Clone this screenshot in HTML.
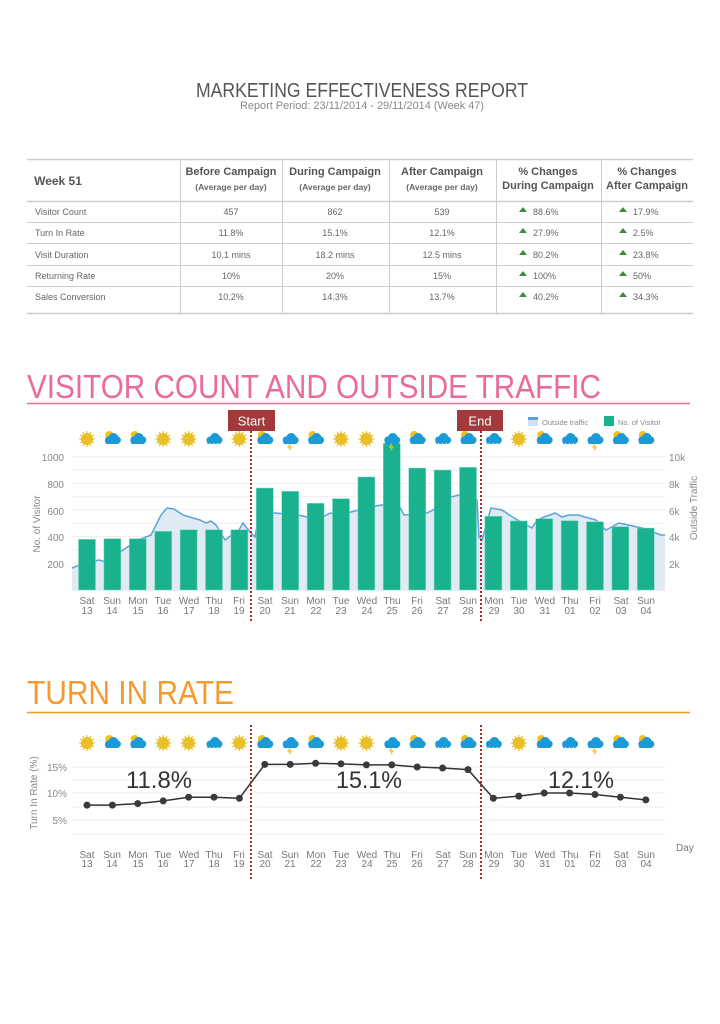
<!DOCTYPE html>
<html><head><meta charset="utf-8">
<style>
html,body{margin:0;padding:0;background:#fff;}
body{width:720px;height:1019px;overflow:hidden;font-family:"Liberation Sans",sans-serif;}
svg text{font-family:"Liberation Sans",sans-serif;}
</style></head>
<body>
<svg id="s" width="720" height="1019" viewBox="0 0 720 1019" xmlns="http://www.w3.org/2000/svg">
<rect width="720" height="1019" fill="#fff"/>
<text x="362" y="97" text-anchor="middle" font-size="20" fill="#555" font-weight="300" textLength="332" lengthAdjust="spacingAndGlyphs">MARKETING EFFECTIVENESS REPORT</text>
<text x="362" y="109" text-anchor="middle" font-size="11" fill="#888" textLength="244" lengthAdjust="spacingAndGlyphs">Report Period: 23/11/2014 - 29/11/2014 (Week 47)</text>

<g stroke="#ccc" stroke-width="1">
<line x1="27" y1="159.5" x2="693" y2="159.5" stroke-width="1.5"/>
<line x1="27" y1="201.5" x2="693" y2="201.5" stroke-width="1.5"/>
<line x1="27" y1="222.5" x2="693" y2="222.5"/>
<line x1="27" y1="243.5" x2="693" y2="243.5"/>
<line x1="27" y1="265.5" x2="693" y2="265.5"/>
<line x1="27" y1="286.5" x2="693" y2="286.5"/>
<line x1="27" y1="313.5" x2="693" y2="313.5" stroke-width="1.5"/>
<line x1="180.5" y1="159" x2="180.5" y2="314"/>
<line x1="282.5" y1="159" x2="282.5" y2="314"/>
<line x1="389.5" y1="159" x2="389.5" y2="314"/>
<line x1="496.5" y1="159" x2="496.5" y2="314"/>
<line x1="601.5" y1="159" x2="601.5" y2="314"/>
</g>
<g font-size="11" font-weight="bold" fill="#555" text-anchor="middle">
<text x="58" y="185" text-anchor="middle" font-size="12">Week 51</text>
<text x="231" y="175">Before Campaign</text>
<text x="335" y="175">During Campaign</text>
<text x="442" y="175">After Campaign</text>
<text x="548" y="175">% Changes</text>
<text x="647" y="175">% Changes</text>
<text x="548" y="189">During Campaign</text>
<text x="647" y="189">After Campaign</text>
</g>
<g font-size="8.5" font-weight="bold" fill="#666" text-anchor="middle">
<text x="231" y="190">(Average per day)</text>
<text x="335" y="190">(Average per day)</text>
<text x="442" y="190">(Average per day)</text>
</g>
<g font-size="9" fill="#666">
<text x="35" y="215">Visitor Count</text>
<text x="35" y="236">Turn In Rate</text>
<text x="35" y="258">Visit Duration</text>
<text x="35" y="279">Returning Rate</text>
<text x="35" y="300">Sales Conversion</text>
</g>
<g font-size="9" fill="#666" text-anchor="middle">
<text x="231" y="215">457</text><text x="335" y="215">862</text><text x="442" y="215">539</text>
<text x="231" y="236">11.8%</text><text x="335" y="236">15.1%</text><text x="442" y="236">12.1%</text>
<text x="231" y="258">10.1 mins</text><text x="335" y="258">18.2 mins</text><text x="442" y="258">12.5 mins</text>
<text x="231" y="279">10%</text><text x="335" y="279">20%</text><text x="442" y="279">15%</text>
<text x="231" y="300">10.2%</text><text x="335" y="300">14.3%</text><text x="442" y="300">13.7%</text>
</g>
<g font-size="9" fill="#666">
<text x="533" y="215">88.6%</text><text x="633" y="215">17.9%</text>
<text x="533" y="236">27.9%</text><text x="633" y="236">2.5%</text>
<text x="533" y="258">80.2%</text><text x="633" y="258">23.8%</text>
<text x="533" y="279">100%</text><text x="633" y="279">50%</text>
<text x="533" y="300">40.2%</text><text x="633" y="300">34.3%</text>
</g>
<g id="tri" fill="#3d8a3d"></g>

<text x="27" y="398" font-size="33" fill="#ea6a9c" font-weight="300" textLength="574" lengthAdjust="spacingAndGlyphs">VISITOR COUNT AND OUTSIDE TRAFFIC</text>
<line x1="27" y1="403.5" x2="690" y2="403.5" stroke="#ea6a9c" stroke-width="1.5"/>
<g id="grid1" stroke="#eee" stroke-width="1"></g>
<path id="area" fill="#dfeaf4"/>
<path id="trl" fill="none" stroke="#5aa3d8" stroke-width="1.5"/>
<g id="bars" fill="#1ab28e" stroke="#7fd8c0" stroke-width="0.5"></g>
<g id="icons1"></g>
<g font-size="10" fill="#888" text-anchor="end">
<text x="64" y="461">1000</text><text x="64" y="488">800</text><text x="64" y="515">600</text><text x="64" y="541">400</text><text x="64" y="568">200</text>
</g>
<g font-size="10" fill="#888">
<text x="669" y="461">10k</text><text x="669" y="488">8k</text><text x="669" y="515">6k</text><text x="669" y="541">4k</text><text x="669" y="568">2k</text>
</g>
<text transform="translate(40,524) rotate(-90)" font-size="10" fill="#888" text-anchor="middle">No. of Visitor</text>
<text transform="translate(697,508) rotate(-90)" font-size="10" fill="#888" text-anchor="middle">Outside Traffic</text>
<rect x="528" y="417" width="10" height="9" fill="#cfe2f1"/><rect x="528" y="417" width="10" height="3" fill="#5aa3d8"/>
<text x="542" y="425" font-size="7.5" fill="#888">Outside traffic</text>
<rect x="604" y="416" width="10" height="10" fill="#1ab28e"/>
<text x="618" y="425" font-size="7.5" fill="#888">No. of Visitor</text>
<g font-size="10" fill="#777" text-anchor="middle">
<text x="87" y="604">Sat</text><text x="87" y="614">13</text>
<text x="112" y="604">Sun</text><text x="112" y="614">14</text>
<text x="138" y="604">Mon</text><text x="138" y="614">15</text>
<text x="163" y="604">Tue</text><text x="163" y="614">16</text>
<text x="189" y="604">Wed</text><text x="189" y="614">17</text>
<text x="214" y="604">Thu</text><text x="214" y="614">18</text>
<text x="239" y="604">Fri</text><text x="239" y="614">19</text>
<text x="265" y="604">Sat</text><text x="265" y="614">20</text>
<text x="290" y="604">Sun</text><text x="290" y="614">21</text>
<text x="316" y="604">Mon</text><text x="316" y="614">22</text>
<text x="341" y="604">Tue</text><text x="341" y="614">23</text>
<text x="367" y="604">Wed</text><text x="367" y="614">24</text>
<text x="392" y="604">Thu</text><text x="392" y="614">25</text>
<text x="417" y="604">Fri</text><text x="417" y="614">26</text>
<text x="443" y="604">Sat</text><text x="443" y="614">27</text>
<text x="468" y="604">Sun</text><text x="468" y="614">28</text>
<text x="494" y="604">Mon</text><text x="494" y="614">29</text>
<text x="519" y="604">Tue</text><text x="519" y="614">30</text>
<text x="545" y="604">Wed</text><text x="545" y="614">31</text>
<text x="570" y="604">Thu</text><text x="570" y="614">01</text>
<text x="595" y="604">Fri</text><text x="595" y="614">02</text>
<text x="621" y="604">Sat</text><text x="621" y="614">03</text>
<text x="646" y="604">Sun</text><text x="646" y="614">04</text>
</g>
<line x1="251" y1="431" x2="251" y2="623" stroke="#b02a2a" stroke-width="2" stroke-dasharray="2,2"/>
<line x1="481" y1="431" x2="481" y2="623" stroke="#b02a2a" stroke-width="2" stroke-dasharray="2,2"/>
<rect x="228" y="410" width="47" height="21" fill="#a3393b"/>
<text x="251.5" y="425.5" font-size="13" fill="#fff" text-anchor="middle">Start</text>
<rect x="457" y="410" width="46" height="21" fill="#a3393b"/>
<text x="480" y="425.5" font-size="13" fill="#fff" text-anchor="middle">End</text>

<text x="27" y="704" font-size="33" fill="#f59a2b" font-weight="300" textLength="207" lengthAdjust="spacingAndGlyphs">TURN IN RATE</text>
<line x1="27" y1="712.5" x2="690" y2="712.5" stroke="#f59a2b" stroke-width="1.5"/>
<g id="grid2" stroke="#eee" stroke-width="1"></g>
<g id="icons2"></g>
<g font-size="10" fill="#888" text-anchor="end">
<text x="67" y="771">15%</text><text x="67" y="797">10%</text><text x="67" y="824">5%</text>
</g>
<text transform="translate(37,793) rotate(-90)" font-size="10" fill="#888" text-anchor="middle">Turn In Rate (%)</text>
<text x="126" y="788" font-size="24" fill="#333" textLength="66" lengthAdjust="spacingAndGlyphs">11.8%</text>
<text x="336" y="788" font-size="24" fill="#333" textLength="66" lengthAdjust="spacingAndGlyphs">15.1%</text>
<text x="548" y="788" font-size="24" fill="#333" textLength="66" lengthAdjust="spacingAndGlyphs">12.1%</text>
<g id="line2"></g>
<text x="676" y="851" font-size="10" fill="#777">Day</text>
<g font-size="10" fill="#777" text-anchor="middle">
<text x="87" y="858">Sat</text><text x="87" y="867">13</text>
<text x="112" y="858">Sun</text><text x="112" y="867">14</text>
<text x="138" y="858">Mon</text><text x="138" y="867">15</text>
<text x="163" y="858">Tue</text><text x="163" y="867">16</text>
<text x="189" y="858">Wed</text><text x="189" y="867">17</text>
<text x="214" y="858">Thu</text><text x="214" y="867">18</text>
<text x="239" y="858">Fri</text><text x="239" y="867">19</text>
<text x="265" y="858">Sat</text><text x="265" y="867">20</text>
<text x="290" y="858">Sun</text><text x="290" y="867">21</text>
<text x="316" y="858">Mon</text><text x="316" y="867">22</text>
<text x="341" y="858">Tue</text><text x="341" y="867">23</text>
<text x="367" y="858">Wed</text><text x="367" y="867">24</text>
<text x="392" y="858">Thu</text><text x="392" y="867">25</text>
<text x="417" y="858">Fri</text><text x="417" y="867">26</text>
<text x="443" y="858">Sat</text><text x="443" y="867">27</text>
<text x="468" y="858">Sun</text><text x="468" y="867">28</text>
<text x="494" y="858">Mon</text><text x="494" y="867">29</text>
<text x="519" y="858">Tue</text><text x="519" y="867">30</text>
<text x="545" y="858">Wed</text><text x="545" y="867">31</text>
<text x="570" y="858">Thu</text><text x="570" y="867">01</text>
<text x="595" y="858">Fri</text><text x="595" y="867">02</text>
<text x="621" y="858">Sat</text><text x="621" y="867">03</text>
<text x="646" y="858">Sun</text><text x="646" y="867">04</text>
</g>
<line x1="251" y1="725" x2="251" y2="880" stroke="#b02a2a" stroke-width="2" stroke-dasharray="2,2"/>
<line x1="481" y1="725" x2="481" y2="880" stroke="#b02a2a" stroke-width="2" stroke-dasharray="2,2"/>
</svg>
<script>
var NS="http://www.w3.org/2000/svg";
function el(p,t,a){var e=document.createElementNS(NS,t);for(var k in a)e.setAttribute(k,a[k]);document.getElementById(p).appendChild(e);return e;}
function cx(i){return 87+25.4*i;}
[211,232,254,275,296].forEach(function(y){
 [523,623].forEach(function(x){el("tri","polygon",{points:(x-4)+","+(y+1)+" "+(x+4)+","+(y+1)+" "+x+","+(y-4)});});
});
for(var v=100;v<=1000;v+=100){var y=590-v*0.1333;el("grid1","line",{x1:72,x2:665,y1:y,y2:y});}
el("grid1","line",{x1:72,x2:665,y1:590,y2:590,stroke:"#ddd"});
var pts=[[72,568],[85,563],[99,560],[106,562],[112,557],[126,548],[138,540],[151,535],[161,515],[167,508],[174,509],[183,515],[193,518],[200,520],[206,523],[211,521],[216,525],[225,540],[229,537],[239,530],[243,523],[250,532],[255,537],[259,515],[266,513],[275,513],[298,515],[312,518],[321,518],[330,513],[339,515],[367,508],[381,505],[399,505],[404,515],[427,513],[433,510],[447,498],[459,495],[468,493],[477,500],[479,537],[482,540],[491,508],[502,510],[514,518],[532,528],[537,520],[544,517],[550,515],[555,513],[562,517],[569,515],[578,515],[596,520],[606,530],[619,523],[642,528],[661,535],[665,535]];
var d="";pts.forEach(function(p,i){d+=(i?"L":"M")+p[0]+","+p[1];});
document.getElementById("trl").setAttribute("d",d);
document.getElementById("area").setAttribute("d",d+"L665,590L72,590Z");
var bars=[380,385,385,440,452,452,452,765,740,650,685,848,1100,915,900,920,553,518,535,520,512,475,465];
bars.forEach(function(b,i){var h=b*0.1333;el("bars","rect",{x:cx(i)-8.5,y:590-h,width:17,height:h});});
var types=["s","c","c","s","s","r","s","c","t","c","s","s","t","c","r","c","r","s","c","r","t","c","c"];
function icon(g,x,y,t){
 if(t=="s"){for(var k=0;k<12;k++){var a=k*Math.PI/6;el(g,"line",{x1:x,y1:y,x2:x+8*Math.cos(a),y2:y+8*Math.sin(a),stroke:"#f0c020","stroke-width":1.2});}
  el(g,"circle",{cx:x,cy:y,r:6,fill:"#e8c02a"});return;}
 if(t=="c"){el(g,"circle",{cx:x-3,cy:y-4,r:4,fill:"#f0c020"});}
 el(g,"circle",{cx:x+1,cy:y-1,r:5,fill:"#1a9ad6"});
 el(g,"circle",{cx:x-4,cy:y+1,r:3.5,fill:"#1a9ad6"});
 el(g,"circle",{cx:x+5,cy:y+1,r:3.5,fill:"#1a9ad6"});
 el(g,"rect",{x:x-7,y:y+1,width:14,height:4,rx:2,fill:"#1a9ad6"});
 if(t=="r"){el(g,"path",{d:"M"+(x-4)+","+(y+4)+"l-1,3 M"+x+","+(y+4)+"l-1,3 M"+(x+4)+","+(y+4)+"l-1,3",stroke:"#fff","stroke-width":1});}
 if(t=="t"){el(g,"path",{d:"M"+x+","+(y+5)+"l-2,3h3l-2,3",stroke:"#f0c020","stroke-width":1.2,fill:"none"});}
}
types.forEach(function(t,i){icon("icons1",cx(i),439,t);icon("icons2",cx(i),743,t);});
[767,780,793,807,820,834].forEach(function(y){el("grid2","line",{x1:72,x2:665,y1:y,y2:y});});
var tr=[7.8,7.8,8.1,8.6,9.3,9.3,9.1,15.5,15.5,15.7,15.6,15.4,15.4,15,14.8,14.5,9.1,9.5,10.1,10.1,9.8,9.3,8.8];
var d2="";tr.forEach(function(v,i){d2+=(i?"L":"M")+cx(i)+","+(846.5-v*5.3);});
el("line2","path",{d:d2,fill:"none",stroke:"#333","stroke-width":1.5});
tr.forEach(function(v,i){el("line2","circle",{cx:cx(i),cy:846.5-v*5.3,r:3.5,fill:"#3a3a3a"});});
</script>
</body></html>
